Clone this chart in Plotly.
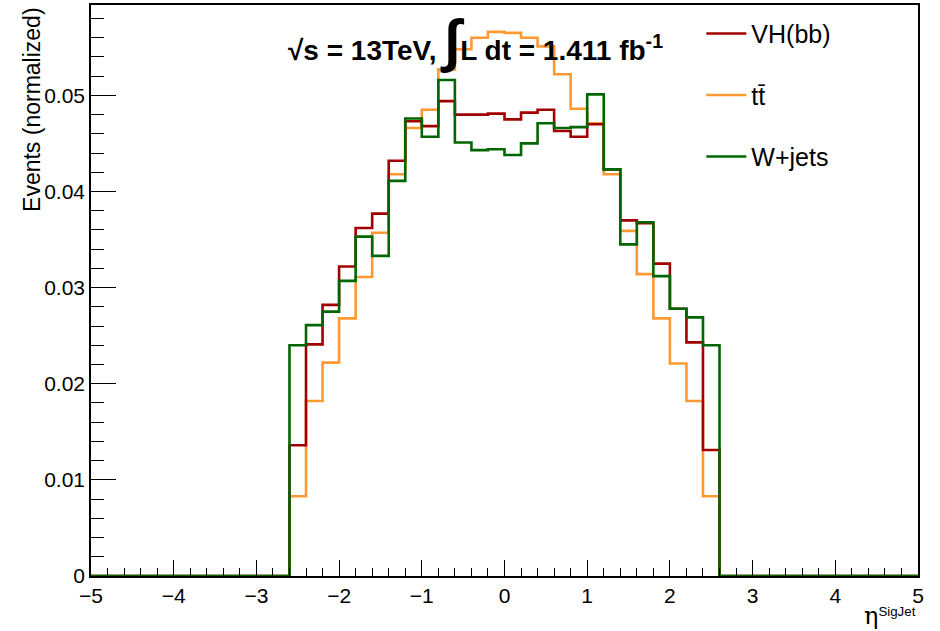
import numpy as np
import plotly.graph_objects as go

# 50 bins of width 0.2 from -5 to 5
bin_edges = np.round(np.linspace(-5, 5, 51), 2)

zeros12 = [0.0] * 12
vh_bb = zeros12 + [
    0.0136, 0.0241, 0.0282, 0.0322, 0.0362, 0.0377, 0.0432, 0.0473, 0.0468,
    0.0494, 0.0480, 0.0480, 0.0481, 0.0475, 0.0482, 0.0485, 0.0463, 0.0457,
    0.0470, 0.0423, 0.0370, 0.0367, 0.0325, 0.0278, 0.0243, 0.0131,
] + zeros12
ttbar = zeros12 + [
    0.0083, 0.0182, 0.0222, 0.0268, 0.0311, 0.0357, 0.0418, 0.0466, 0.0485,
    0.0527, 0.0548, 0.0560, 0.0566, 0.0565, 0.0560, 0.0551, 0.0522, 0.0486,
    0.0471, 0.0418, 0.0359, 0.0314, 0.0268, 0.0221, 0.0182, 0.0083,
] + zeros12
wjets = zeros12 + [
    0.0240, 0.0261, 0.0275, 0.0307, 0.0353, 0.0333, 0.0411, 0.0476, 0.0457,
    0.0516, 0.0451, 0.0443, 0.0444, 0.0438, 0.0450, 0.0471, 0.0466, 0.0467,
    0.0501, 0.0423, 0.0345, 0.0368, 0.0312, 0.0278, 0.0269, 0.0240,
] + zeros12

series = [
    ("tt\u0304", ttbar, "#ff9a33", 2),
    ("VH(bb)", vh_bb, "#a00000", 1),
    ("W+jets", wjets, "#006600", 3),
]

fig = go.Figure()
for name, vals, color, rank in series:
    yv = list(vals) + [vals[-1]]
    fig.add_trace(go.Scatter(
        x=bin_edges, y=yv, mode="lines", name=name,
        line=dict(color=color, width=2.6, shape="hv"),
        legendrank=rank, legendgroup=name,
    ))

font_family = "Liberation Sans, Arial, Helvetica, sans-serif"

fig.update_layout(
    width=940, height=631,
    paper_bgcolor="white", plot_bgcolor="white",
    margin=dict(l=91, r=22, t=5, b=55),
    font=dict(family=font_family, color="black"),
    showlegend=True,
    legend=dict(
        x=0.738, y=0.99, xanchor="left", yanchor="top",
        bgcolor="rgba(0,0,0,0)", font=dict(size=25, family=font_family),
        tracegroupgap=26, itemwidth=40,
    ),
    xaxis=dict(
        range=[-5, 5], tickmode="linear", tick0=-5, dtick=1,
        ticks="inside", ticklen=16, tickwidth=1.3, tickcolor="black",
        minor=dict(ticks="inside", ticklen=8, dtick=0.2, tickwidth=1, tickcolor="black"),
        showline=True, linecolor="black", linewidth=1.5, mirror=True,
        showgrid=False, zeroline=False, automargin=False,
        tickfont=dict(size=21, family=font_family),
        tickformat="d",
    ),
    yaxis=dict(
        range=[0, 0.0594], tickmode="linear", tick0=0, dtick=0.01,
        ticks="inside", ticklen=25, tickwidth=1.3, tickcolor="black",
        minor=dict(ticks="inside", ticklen=13, dtick=0.002, tickwidth=1, tickcolor="black"),
        showline=True, linecolor="black", linewidth=1.5, mirror=True,
        showgrid=False, zeroline=False, automargin=False,
        tickfont=dict(size=21, family=font_family),
        tickvals=[0, 0.01, 0.02, 0.03, 0.04, 0.05],
        ticktext=["0", "0.01", "0.02", "0.03", "0.04", "0.05"],
    ),
)

# axis titles (ROOT style: right/top aligned)
fig.add_annotation(
    xref="paper", yref="paper", x=-0.072, y=1.0, xanchor="center", yanchor="top",
    text="Events (normalized)", textangle=-90, showarrow=False,
    font=dict(size=23, family=font_family),
)
fig.add_annotation(
    xref="paper", yref="paper", x=1.0, y=-0.042, xanchor="right", yanchor="top",
    text="<span style='font-family:DejaVu Serif;font-size:24px'>η</span><sup>SigJet</sup>",
    showarrow=False, font=dict(size=19, family=font_family),
)
# luminosity label
fig.add_annotation(
    xref="paper", yref="paper", x=0.465, y=1.0, xanchor="center", yanchor="top",
    text="<b>√s = 13TeV, <span style='font-size:58px'>∫</span>L dt = 1.411 fb<sup>-1</sup></b>",
    showarrow=False, font=dict(size=28, family=font_family),
)

fig.write_html(
    "out.html",
    config={"displayModeBar": False},
    post_script="document.body.style.margin='0px';",
)
